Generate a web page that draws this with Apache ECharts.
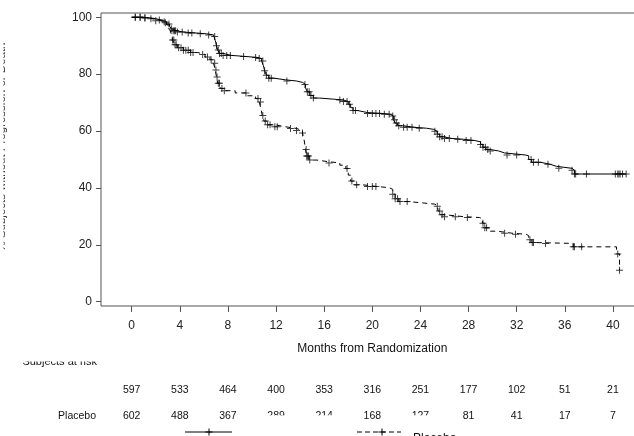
<!DOCTYPE html>
<html><head><meta charset="utf-8">
<script src="https://cdn.jsdelivr.net/npm/echarts@6/dist/echarts.min.js"></script>
<style>html,body{margin:0;padding:0;background:#fff}#c{width:634px;height:436px}</style>
</head><body><div id="c"></div>
<script>
const tickMonths = [0,4,8,12,16,20,24,28,32,36,40];
const yTicks = [0,20,40,60,80,100];
const riskActive = [597,533,464,400,353,316,251,177,102,51,21];
const riskPlacebo = [602,488,367,289,214,168,127,81,41,17,7];
const clippedPlaceboCols = [3,4,6];

const kmActive = [[0,100],[0.8,99.8],[1.5,99.5],[2.0,99.0],[2.5,98.4],[2.9,97.6],[3.15,96.8],[3.3,96.0],[3.45,95.3],[3.7,94.8],[4.3,94.5],[5.3,94.2],[6.2,93.8],[6.8,93.2],[6.95,91.8],[7.05,90],[7.15,88.5],[7.3,87.3],[7.55,86.6],[8.3,86.2],[9.5,85.9],[10.4,85.5],[10.8,84.6],[10.95,83],[11.05,81.2],[11.2,79.6],[11.4,78.6],[11.8,78.0],[12.8,77.6],[13.7,77.1],[14.2,76.4],[14.45,75.2],[14.6,73.8],[14.8,72.5],[15.1,71.6],[15.6,71.2],[16.8,70.9],[17.6,70.4],[18.0,69.4],[18.2,68.2],[18.4,67.2],[18.8,66.5],[19.6,66.2],[20.8,65.9],[21.5,65.3],[21.75,64.0],[21.9,62.8],[22.1,61.9],[22.5,61.3],[23.5,61.0],[24.5,60.6],[25.1,59.9],[25.4,58.9],[25.6,58.0],[25.9,57.4],[26.6,57.1],[27.6,56.7],[28.5,56.2],[29.0,55.3],[29.2,54.3],[29.45,53.5],[29.8,53.0],[30.5,52.3],[31.0,51.6],[32.7,51.3],[33.0,50.0],[33.25,49.0],[34.0,48.3],[34.8,47.6],[35.3,46.9],[36.6,46.2],[36.8,44.9],[41.1,44.9]];
const kmPlacebo = [[0,100],[0.9,99.7],[1.5,99.3],[2.0,98.8],[2.5,98.1],[2.9,97.3],[3.15,96.0],[3.3,94.0],[3.4,92.0],[3.55,90.3],[3.8,89.3],[4.3,88.4],[4.9,87.6],[5.5,86.9],[6.1,86.0],[6.5,85.1],[6.8,83.8],[6.95,81.5],[7.05,79],[7.15,76.8],[7.35,75.0],[7.7,74.2],[8.6,73.4],[9.6,72.4],[10.3,71.4],[10.6,70.2],[10.75,67.8],[10.85,65.5],[11.0,63.5],[11.3,62.2],[11.9,61.5],[12.8,60.9],[13.7,60.2],[14.2,59.3],[14.35,56.5],[14.45,53.5],[14.55,51.2],[14.75,49.8],[15.4,49.2],[16.4,48.8],[17.3,48.0],[17.8,46.8],[18.0,44.5],[18.2,42.4],[18.5,41.1],[19.2,40.5],[20.4,40.1],[21.4,39.5],[21.7,37.8],[21.9,36.2],[22.2,35.2],[23.0,34.7],[24.3,34.3],[25.2,33.6],[25.45,31.9],[25.65,30.6],[26.0,29.9],[27.6,29.6],[28.9,29.2],[29.15,27.6],[29.35,26],[29.7,24.8],[30.4,24.1],[31.6,23.7],[32.8,23.2],[33.0,21.8],[33.2,20.8],[33.6,20.5],[36.7,19.3],[40.3,16.8],[40.55,11.1]];

const censorActive = [0.3,0.7,1.1,1.6,2.3,2.7,3.1,3.3,3.45,3.55,3.65,3.8,4.2,4.7,5.0,5.7,6.4,6.9,7.05,7.2,7.3,7.45,7.6,7.9,8.2,9.3,10.3,10.6,10.9,11.05,11.2,11.4,11.6,12.9,14.4,14.6,14.75,14.9,15.1,17.3,17.6,17.9,18.1,18.4,18.6,19.6,20.0,20.3,20.6,21.0,21.4,21.7,21.85,22.0,22.2,22.6,22.9,23.3,23.9,25.2,25.4,25.6,25.8,26.0,26.4,27.1,27.8,28.2,29.0,29.2,29.4,29.6,29.8,31.2,32.0,33.2,33.4,33.8,34.6,35.5,36.6,36.8,36.9,37.8,40.2,40.4,40.5,40.6,40.8,41.1];
const censorPlacebo = [0.3,0.7,1.1,2.0,2.8,3.4,3.5,3.6,3.7,3.9,4.1,4.3,4.5,4.7,4.9,5.1,5.9,6.3,6.6,6.9,7.0,7.1,7.2,7.3,7.5,7.7,9.5,10.5,10.7,10.9,11.1,11.3,11.5,11.9,12.1,13.2,13.7,14.2,14.5,14.55,14.6,14.7,14.8,16.4,17.9,18.3,18.7,19.6,20.0,20.3,21.7,21.9,22.1,22.3,22.9,25.4,25.6,25.8,26.0,26.9,27.9,29.2,29.35,29.5,31.0,31.9,33.1,33.3,33.4,34.4,36.7,36.8,37.4,40.4,40.55];

const FONT = '"Liberation Sans", Arial, Helvetica, sans-serif';
const PLUS = 'path://M3,0H4V3H7V4H4V7H3V4H0V3H3Z';

function survAt(curve, t) {
  let v = curve[0][1];
  for (const p of curve) { if (p[0] <= t + 1e-9) v = p[1]; else break; }
  return v;
}
const censorActivePts = censorActive.map(t => [t, survAt(kmActive, t)]);
const censorPlaceboPts = censorPlacebo.map(t => [t, survAt(kmPlacebo, t)]);

const chart = echarts.init(document.getElementById('c'), null, {renderer: 'canvas'});
const option = {
  animation: false,
  backgroundColor: '#fff',
  grid: {left: 101, top: 13, width: 542, height: 293, show: true, borderColor: '#555', borderWidth: 1,
         containLabel: false, outerBoundsMode: 'none'},
  xAxis: {
    type: 'value', min: -2.55, max: 42.5,
    axisLine: {show: false, onZero: false},
    axisTick: {show: true, length: 6, lineStyle: {color: '#555'}, customValues: tickMonths},
    axisLabel: {show: true, margin: 14, fontSize: 12, fontFamily: FONT, color: '#222', customValues: tickMonths},
    splitLine: {show: false}
  },
  yAxis: {
    type: 'value', min: -1.5, max: 101.5,
    axisLine: {show: false, onZero: false},
    axisTick: {show: true, length: 5, lineStyle: {color: '#555'}, customValues: yTicks},
    axisLabel: {show: true, margin: 9, fontSize: 12, fontFamily: FONT, color: '#222', customValues: yTicks},
    splitLine: {show: false}
  },
  series: [
    {type: 'line', step: 'end', data: kmActive, showSymbol: false, silent: true,
     lineStyle: {color: '#000', width: 1, type: 'solid'}},
    {type: 'line', step: 'end', data: kmPlacebo, showSymbol: false, silent: true,
     lineStyle: {color: '#000', width: 1, type: [5, 4]}},
    {type: 'scatter', data: censorActivePts, symbol: PLUS, symbolSize: 7, silent: true,
     itemStyle: {color: '#111'}},
    {type: 'scatter', data: censorPlaceboPts, symbol: PLUS, symbolSize: 7, silent: true,
     itemStyle: {color: '#111'}}
  ]
};
chart.setOption(option);

function txt(text, x, y, opts) {
  opts = opts || {};
  return {type: 'text', x: x, y: y, rotation: opts.rotation || 0, z: 10,
    style: {text: text, fill: opts.fill || '#111', font: (opts.size || 10.5) + 'px ' + FONT,
      align: opts.align || 'center', textAlign: opts.align || 'center',
      verticalAlign: 'middle', textVerticalAlign: 'middle'}};
}
function cover(x, y, w, h) {
  return {type: 'rect', z: 20, shape: {x: x, y: y, width: w, height: h}, style: {fill: '#fff'}};
}
function seg(x1, y1, x2, y2, dash) {
  return {type: 'line', z: 10, shape: {x1: x1, y1: y1, x2: x2, y2: y2},
    style: {stroke: '#000', lineWidth: 1, lineDash: dash || null}};
}
function plus(cx, cy) {
  return [seg(cx - 3.5, cy, cx + 3.5, cy), seg(cx, cy - 3.5, cx, cy + 3.5)];
}

const els = [];
const xPix = tickMonths.map(m => chart.convertToPixel({xAxisIndex: 0}, m));
els.push(txt('Months from Randomization', chart.convertToPixel({xAxisIndex: 0}, 20), 349, {size: 12}));
els.push(txt('% Subjects without Progression or Death', 1.5, 147, {size: 11.5, rotation: Math.PI / 2, fill: '#333'}));
els.push(cover(0, 0, 3.4, 300));
els.push(txt('Subjects at risk', 97, 362, {size: 11, align: 'right'}));
els.push(cover(0, 352, 110, 9.6));
riskActive.forEach((v, i) => els.push(txt(String(v), xPix[i], 390.3)));
els.push(txt('Placebo', 96, 416.2, {align: 'right'}));
riskPlacebo.forEach((v, i) => els.push(txt(String(v), xPix[i], 416.2)));
clippedPlaceboCols.forEach(i => els.push(cover(xPix[i] - 14, 415.3, 28, 8)));
els.push(seg(185, 432, 232, 432));
plus(209, 432).forEach(e => els.push(e));
els.push(seg(357, 432, 401, 432, [5, 3]));
plus(382, 432).forEach(e => els.push(e));
els.push(txt('Placebo', 413, 438.5, {align: 'left', size: 12}));

chart.setOption({graphic: {elements: els}});
</script></body></html>
